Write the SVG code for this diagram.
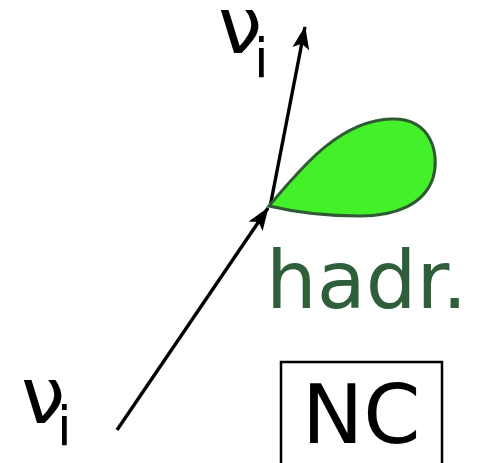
<svg xmlns="http://www.w3.org/2000/svg" width="486" height="463" viewBox="0 0 486 463">
<style>
.lbl{font-family:"DejaVu Sans",sans-serif;fill:#000}
.ln{stroke:#000;stroke-width:3.4;fill:none}
</style>
<defs>
<marker id="ah" markerUnits="userSpaceOnUse" viewBox="0 0 24 20" refX="23" refY="10" markerWidth="24" markerHeight="20" orient="auto">
<path d="M24,10 L1,1.5 L6,10 L1,18.5 Z" fill="#000"/>
</marker>
</defs>
<rect width="486" height="463" fill="#fff"/>
<g id="connectors">
<line class="ln" x1="117" y1="430" x2="268" y2="208" marker-end="url(#ah)"/>
<line class="ln" x1="270" y1="207" x2="305" y2="27" marker-end="url(#ah)"/>
</g>
<g id="hadron">
<path d="M269,206 C298,172 338,120 392,119 C432,118 440,155 433,178 C424,205 395,216 360,216 C320,216 290,211 269,206 Z" fill="#44f02a" stroke="#2e5b33" stroke-width="3"/>
<text x="266" y="308" font-family="DejaVu Sans,sans-serif" font-size="80" fill="#2f5f3a">hadr.</text>
</g>
<g id="nu-out">
<text class="lbl" x="218" y="53" font-size="79">ν</text>
<text class="lbl" x="254" y="77" font-size="53">i</text>
</g>
<g id="nu-in">
<text class="lbl" x="21" y="423" font-size="79">ν</text>
<text class="lbl" x="57" y="445" font-size="53">i</text>
</g>
<g id="nc">
<rect x="281" y="362" width="161" height="110" fill="none" stroke="#000" stroke-width="2.5"/>
<text class="lbl" x="302" y="443" font-size="82">NC</text>
</g>
</svg>
